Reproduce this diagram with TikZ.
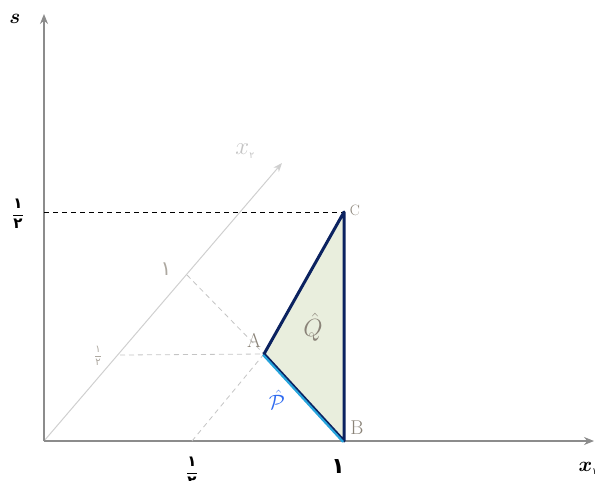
\documentclass[tikz,border=0pt]{standalone}
\usepackage{amsmath}
\usepackage{fontspec}
\newfontfamily\farsi[Script=Arabic]{DejaVu Sans}
\usetikzlibrary{positioning, arrows.meta, calc}
\definecolor{axisGray}{HTML}{8C8C8C}
\definecolor{obliqueGray}{HTML}{CFCFCF}
\definecolor{guideGray}{HTML}{C4C4C4}
\definecolor{edgeNavy}{HTML}{0B2260}
\definecolor{edgeCyan}{HTML}{27A4DC}
\definecolor{regionFill}{HTML}{E9EEDD}
\definecolor{labelGray}{HTML}{8A8378}
\definecolor{hatBlue}{HTML}{2F6BF0}
\newcommand{\fahalf}{$\dfrac{\text{\farsi ۱}}{\text{\farsi ۲}}$}

\begin{document}
\begin{tikzpicture}[
  x=1pt, y=-1pt,
  mainaxis/.style={draw=axisGray, line width=1.1pt, -{Stealth[length=10pt, width=8pt]}},
  obliqueaxis/.style={draw=obliqueGray, line width=1pt, -{Stealth[length=9pt, width=7pt]}},
  guideline/.style={draw=guideGray, line width=0.8pt, dash pattern=on 5pt off 4pt},
  levelline/.style={draw=black, line width=0.8pt, dash pattern=on 5pt off 4pt},
  vertexlab/.style={font=\fontsize{20}{22}\selectfont, text=labelGray, inner sep=1pt},
  ticklab/.style={font=\fontsize{15}{16}\selectfont\bfseries, inner sep=0pt},
  axislab/.style={font=\fontsize{22}{24}\selectfont, inner sep=0pt}
]
  \useasboundingbox (0,0) rectangle (595,480);

  %% --- punti principali (coordinate immagine, y verso il basso) ---
  \coordinate (O) at (44,441);
  \coordinate (sTip) at (44,14);
  \coordinate (xTip) at (594,441);
  \coordinate (oTip) at (282,163);
  \coordinate (A) at (264,354);
  \coordinate (B) at (344,441);
  \coordinate (C) at (344,212);
  \coordinate (sHalf) at (44,212);
  \coordinate (oOne) at (187,275);
  \coordinate (oHalf) at (120,355);
  \coordinate (xHalf) at (192,441);

  %% --- assi ---
  \draw[obliqueaxis] (O) -- (oTip);
  \draw[mainaxis] (O) -- (sTip);
  \draw[mainaxis] (O) -- (xTip);

  %% --- linee guida tratteggiate ---
  \draw[levelline] (sHalf) -- (C);
  \draw[guideline] (oOne) -- (A);
  \draw[guideline] (oHalf) -- (A);
  \draw[guideline] (xHalf) -- (A);

  %% --- regione Q e lato P ---
  \fill[regionFill] (A) -- (B) -- (C) -- cycle;
  \draw[edgeNavy, line width=3pt, line join=round] (A) -- (C) -- (B) -- cycle;
  \draw[edgeCyan, line width=2.2pt] ($(A)+(-0.9,0.9)$) -- ($(B)+(-0.9,0.9)$);

  %% --- etichette dei vertici ---
  \node[vertexlab] (labA) at (254,340) {A};
  \node[vertexlab] (labB) at (357,428) {B};
  \node[vertexlab, font=\fontsize{15}{17}\selectfont] (labC) at (355,210) {C};
  \node[vertexlab, font=\fontsize{25}{27}\selectfont] (labQ) at (313,327) {$\hat{Q}$};
  \node[vertexlab, text=hatBlue, font=\fontsize{22}{24}\selectfont] (labP) at (277,400) {$\hat{\mathcal{P}}$};

  %% --- etichette degli assi ---
  \node[axislab, font=\fontsize{22}{24}\selectfont\bfseries] (labS) at (15,19) {$\boldsymbol{s}$};
  \node[axislab] (labX) at (588,468) {$\boldsymbol{x}_{\text{\farsi\fontsize{9}{10}\selectfont ۱}}$};
  \node[axislab, text=guideGray, font=\fontsize{25}{27}\selectfont] (labXtwo) at (245,151) {$x_{\text{\farsi\fontsize{9}{10}\selectfont ۲}}$};

  %% --- tacche in cifre persiane ---
  \node[ticklab] (tickS) at (18,214) {\fahalf};
  \node[ticklab] (tickX) at (192,472) {\fahalf};
  \node[ticklab, font=\fontsize{22}{24}\selectfont\bfseries] (tickB) at (338,467) {\farsi ۱};
  \node[ticklab, text=labelGray!70, font=\fontsize{20}{22}\selectfont] (tickO) at (166,269) {\farsi ۱};
  \node[ticklab, text=labelGray!70, font=\fontsize{10}{11}\selectfont] (tickOh) at (98,356) {\fahalf};
\end{tikzpicture}
\end{document}
